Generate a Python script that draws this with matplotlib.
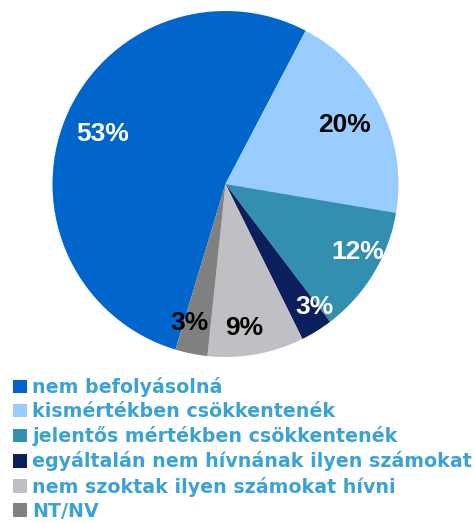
import numpy as np
import matplotlib
matplotlib.use("Agg")
import matplotlib.pyplot as plt
from matplotlib.patches import Patch

# Data
categories = [
    "nem befolyásolná",
    "kismértékben csökkentenék",
    "jelentős mértékben csökkentenék",
    "egyáltalán nem hívnának ilyen számokat",
    "nem szoktak ilyen számokat hívni",
    "NT/NV",
]
shares = [53, 20, 12, 3, 9, 3]
pct_labels = ["53%", "20%", "12%", "3%", "9%", "3%"]

colors = ["#0066CC", "#99CCFF", "#338FB0", "#0A1F5C", "#C0C0C4", "#808080"]
label_colors = ["white", "black", "white", "white", "black", "black"]
label_dist = [0.77, 0.77, 0.86, 0.88, 0.84, 0.83]
label_shift = [0, 0, 4, 4, -3, -3]  # degrees

fig = plt.figure(figsize=(4.74, 5.23), dpi=100)
W, H = 474, 523
cx, cy, r = 225.5, 184, 173
ax = fig.add_axes([(cx - r) / W, (H - cy - r) / H, 2 * r / W, 2 * r / H])

wedges, _ = ax.pie(shares, colors=colors, startangle=253.2, counterclock=False,
                   radius=1, wedgeprops=dict(linewidth=0))
ax.set_xlim(-1, 1)
ax.set_ylim(-1, 1)
ax.set_aspect("equal")
ax.axis("off")

for w, txt, c, d, s in zip(wedges, pct_labels, label_colors, label_dist, label_shift):
    ang = np.deg2rad((w.theta1 + w.theta2) / 2 + s)
    ax.text(d * np.cos(ang), d * np.sin(ang), txt, ha="center", va="center",
            color=c, fontsize=19, fontweight="bold", family="Liberation Sans")

handles = [Patch(facecolor=c, edgecolor="none") for c in colors]
leg = fig.legend(handles, categories, loc="upper left",
                 bbox_to_anchor=(13 / W, 1 - 377 / H), frameon=False,
                 prop=dict(family="DejaVu Sans", weight="bold", size=13.7),
                 handlelength=0.72, handleheight=0.72, handletextpad=0.3,
                 labelspacing=0.27, borderpad=0, borderaxespad=0)
for t in leg.get_texts():
    t.set_color("#3BA3D3")

fig.savefig("out.png", dpi=100)
